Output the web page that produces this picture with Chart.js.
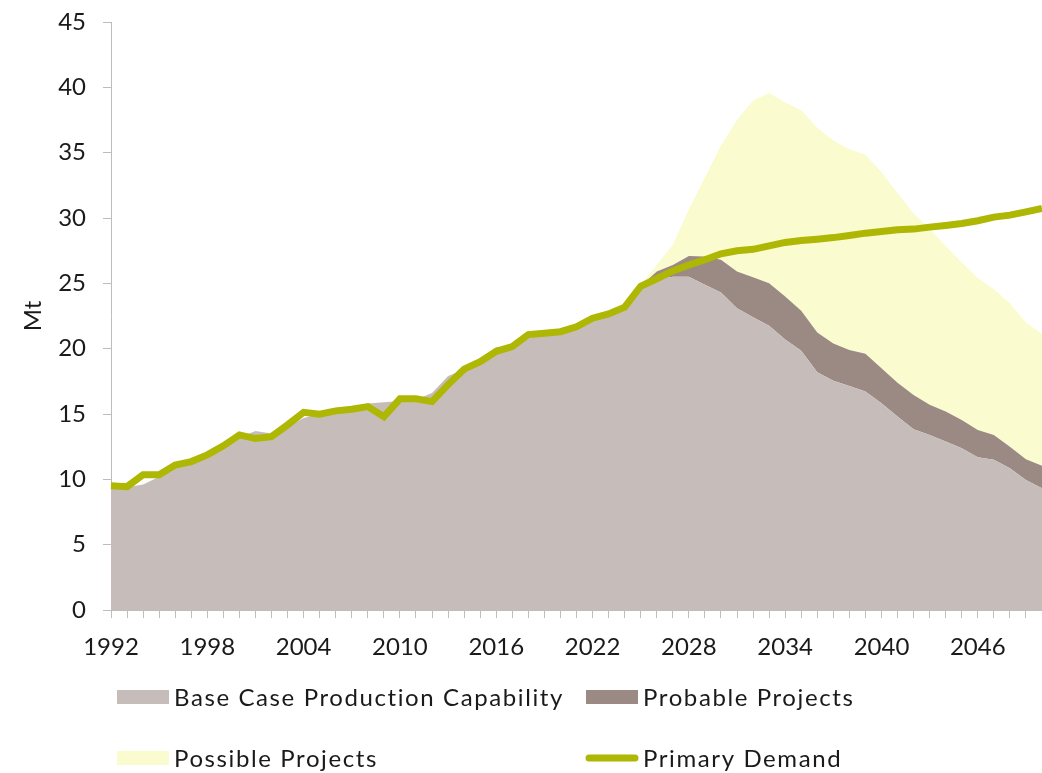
<!DOCTYPE html>
<html>
<head>
<meta charset="utf-8">
<script src="https://cdn.jsdelivr.net/npm/chart.js@4.4.1/dist/chart.umd.min.js"></script>
<style>
  html, body { margin: 0; padding: 0; background: #ffffff; }
  #wrap { position: relative; width: 1042px; height: 773px; }
</style>
</head>
<body>
<div id="wrap"><canvas id="chart"></canvas></div>
<script>
// ---------- DATA ----------
const years = ['1992','1993','1994','1995','1996','1997','1998','1999','2000','2001',
  '2002','2003','2004','2005','2006','2007','2008','2009','2010','2011',
  '2012','2013','2014','2015','2016','2017','2018','2019','2020','2021',
  '2022','2023','2024','2025','2026','2027','2028','2029','2030','2031',
  '2032','2033','2034','2035','2036','2037','2038','2039','2040','2041',
  '2042','2043','2044','2045','2046','2047','2048','2049','2050'];

const baseCase = [9.3, 9.4, 9.6, 10.2, 10.9, 11.3, 12.1, 12.7, 13.2, 13.7,
  13.5, 14.0, 14.7, 15.0, 15.3, 15.5, 15.8, 15.9, 16.0, 16.1,
  16.6, 17.9, 18.4, 19.0, 20.1, 20.2, 20.9, 21.0, 21.2, 21.6,
  22.2, 22.6, 23.0, 24.7, 25.3, 25.5, 25.5, 24.9, 24.3, 23.1,
  22.4, 21.75, 20.7, 19.85, 18.2, 17.55, 17.15, 16.72, 15.82, 14.8,
  13.83, 13.4, 12.89, 12.38, 11.69, 11.49, 10.85, 9.95, 9.32];

const probable = [0, 0, 0, 0, 0, 0, 0, 0, 0, 0,
  0, 0, 0, 0, 0, 0, 0, 0, 0, 0,
  0, 0, 0, 0, 0, 0, 0, 0, 0, 0,
  0, 0, 0, 0.1, 0.6, 0.9, 1.6, 2.15, 2.5, 2.8,
  3.07, 3.25, 3.3, 3.05, 3.04, 2.85, 2.75, 2.9, 2.68, 2.6,
  2.63, 2.3, 2.3, 2.17, 2.09, 1.91, 1.65, 1.59, 1.71];

const possible = [0, 0, 0, 0, 0, 0, 0, 0, 0, 0,
  0, 0, 0, 0, 0, 0, 0, 0, 0, 0,
  0, 0, 0, 0, 0, 0, 0, 0, 0, 0,
  0, 0, 0, 0.1, 0.5, 1.55, 3.57, 6.05, 8.75, 11.6,
  13.53, 14.56, 14.83, 15.35, 15.66, 15.53, 15.37, 15.22, 15.0, 14.5,
  13.89, 13.5, 12.66, 12.05, 11.62, 11.15, 10.98, 10.46, 10.1];

const demand = [9.5, 9.44, 10.36, 10.36, 11.1, 11.36, 11.87, 12.56, 13.4, 13.12,
  13.27, 14.17, 15.13, 14.98, 15.24, 15.36, 15.57, 14.8, 16.16, 16.16,
  15.95, 17.25, 18.43, 19.0, 19.8, 20.16, 21.08, 21.18, 21.3, 21.67,
  22.33, 22.66, 23.17, 24.78, 25.35, 25.95, 26.4, 26.8, 27.26, 27.49,
  27.6, 27.87, 28.13, 28.28, 28.38, 28.5, 28.66, 28.84, 28.97, 29.1,
  29.15, 29.3, 29.43, 29.58, 29.79, 30.07, 30.22, 30.47, 30.73];

const seriesNames = ['Base Case Production Capability', 'Probable Projects', 'Possible Projects', 'Primary Demand'];
const yTitle = 'Mt';
const labelEvery = 6;

// ---------- STYLE ----------
const FONT = 'Lato, "Open Sans", sans-serif';
const TEXT = '#1a1a1a';
const AXIS = '#bdbdbd';
const C_BASE = '#c6bdba';
const C_PROB = '#9b8a83';
const C_POSS = '#fafbce';
const C_DEM = '#aeb703';

// legend drawn as a 2x2 grid below the axis
const legendGrid = {
  id: 'legendGrid',
  afterDraw(chart, args, opts) {
    const ctx = chart.ctx;
    ctx.save();
    ctx.font = opts.font;
    ctx.fillStyle = opts.color;
    ctx.textBaseline = 'middle';
    ctx.textAlign = 'left';
    if ('letterSpacing' in ctx) ctx.letterSpacing = opts.letterSpacing;
    chart.data.datasets.forEach((ds, i) => {
      const s = opts.slots[i];
      if (ds.fill === false) {
        ctx.save();
        ctx.strokeStyle = ds.borderColor;
        ctx.lineWidth = ds.borderWidth;
        ctx.lineCap = 'round';
        ctx.beginPath();
        ctx.moveTo(s.x + 3, s.y);
        ctx.lineTo(s.x + opts.boxW - 3, s.y);
        ctx.stroke();
        ctx.restore();
      } else {
        ctx.fillStyle = ds.backgroundColor;
        ctx.fillRect(s.x, s.y - opts.boxH / 2, opts.boxW, opts.boxH);
      }
      ctx.fillStyle = opts.color;
      ctx.fillText(ds.label, s.x + opts.boxW + opts.gap, s.y + 1);
    });
    ctx.restore();
  }
};

const ctx = document.getElementById('chart').getContext('2d');
new Chart(ctx, {
  type: 'line',
  data: {
    labels: years,
    datasets: [
      { type: 'line', label: seriesNames[0], data: baseCase, stack: 'supply', order: 1,
        backgroundColor: C_BASE, borderColor: C_BASE, borderWidth: 0, fill: 'origin',
        pointRadius: 0, pointHoverRadius: 0, tension: 0 },
      { type: 'line', label: seriesNames[1], data: probable, stack: 'supply', order: 2,
        backgroundColor: C_PROB, borderColor: C_PROB, borderWidth: 0, fill: '-1',
        pointRadius: 0, pointHoverRadius: 0, tension: 0 },
      { type: 'line', label: seriesNames[2], data: possible, stack: 'supply', order: 3,
        backgroundColor: C_POSS, borderColor: C_POSS, borderWidth: 0, fill: '-1',
        pointRadius: 0, pointHoverRadius: 0, tension: 0 },
      { type: 'line', label: seriesNames[3], data: demand, stack: 'demand', order: 0,
        backgroundColor: C_DEM, borderColor: C_DEM, borderWidth: 7, fill: false,
        pointRadius: 0, pointHoverRadius: 0, tension: 0, borderJoinStyle: 'miter', borderCapStyle: 'butt' }
    ]
  },
  options: {
    responsive: true,
    maintainAspectRatio: false,
    animation: false,
    devicePixelRatio: 1,
    clip: false,
    layout: { autoPadding: false, padding: { top: 22, right: 0, bottom: 0, left: 0 } },
    plugins: {
      legend: { display: false },
      tooltip: { enabled: false },
      legendGrid: {
        font: '400 24px ' + FONT,
        color: TEXT,
        letterSpacing: '1.6px',
        boxW: 52, boxH: 14, gap: 5,
        slots: [ { x: 117, y: 697 }, { x: 586, y: 697 }, { x: 117, y: 758 }, { x: 586, y: 758 } ]
      }
    },
    scales: {
      x: {
        type: 'category',
        offset: false,
        grid: { display: true, drawOnChartArea: false, drawTicks: true, tickLength: 8, color: AXIS, tickColor: AXIS, lineWidth: 1 },
        border: { display: true, color: AXIS, width: 1 },
        ticks: {
          autoSkip: false, maxRotation: 0, minRotation: 0, padding: 15,
          color: TEXT, font: { family: FONT, size: 24, weight: '400' },
          callback: function(v, i) { return (i % labelEvery === 0) ? this.getLabelForValue(v) : ''; }
        },
        afterFit: (scale) => { scale.height = 163; scale.paddingLeft = 0; scale.paddingRight = 0; }
      },
      y: {
        stacked: true,
        min: 0, max: 45,
        grid: { display: true, drawOnChartArea: false, drawTicks: true, tickLength: 8, color: AXIS, tickColor: AXIS, lineWidth: 1 },
        border: { display: true, color: AXIS, width: 1 },
        ticks: { stepSize: 5, padding: 17, color: TEXT, font: { family: FONT, size: 24, weight: '400' } },
        title: { display: true, text: yTitle, color: TEXT, font: { family: FONT, size: 24, weight: '400' }, padding: { top: 19, bottom: 0 } },
        afterFit: (scale) => { scale.width = 111; scale.paddingTop = 0; scale.paddingBottom = 0; }
      }
    }
  },
  plugins: [legendGrid]
});
</script>
</body>
</html>
